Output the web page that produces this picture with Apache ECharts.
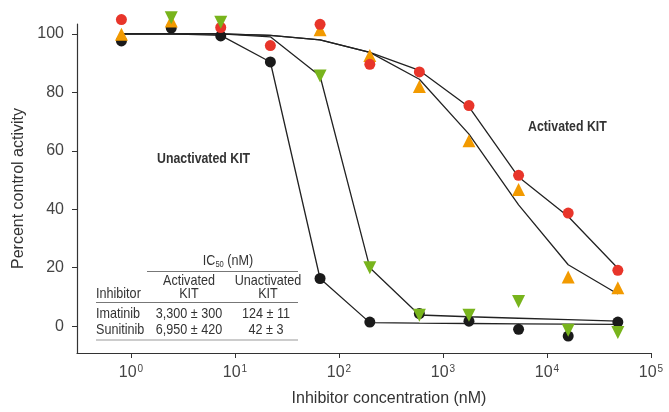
<!DOCTYPE html>
<html>
<head>
<meta charset="utf-8">
<script src="https://cdn.jsdelivr.net/npm/echarts@6/dist/echarts.min.js"></script>
<style>
  html, body { margin: 0; padding: 0; background: #fff; }
  #chart { width: 669px; height: 412px; }
</style>
</head>
<body>
<div id="chart"></div>
<script>
// inhibitor concentrations (nM), 3-fold dilution series
var conc = [0.81, 2.44, 7.3, 21.9, 65.8, 198, 593, 1778, 5333, 16000, 48000];

// measured points (percent control activity), null = not shown
var sunUnact = [97.6, 102, 99.3, 90.4, 16.3, 1.4, 4.3, 1.7, -1.1, -3.4, 1.4];     // black
var imaUnact = [null, 105.5, 104, null, 85.6, 20, 3.7, 3.7, 8.4, -1.4, -2.2];     // green
var sunAct   = [104.9, null, 102.2, 96, 103.3, 89.6, 87, 75.5, 51.6, 38.7, 19.1]; // red
var imaAct   = [99.9, 104.4, null, null, 101.4, 92.6, 82, 63.4, 46.8, 16.8, 13.1]; // orange

// fitted curves
var sunUnactFit = [100, 100, 99.5, 90.4, 16.3, 1.2, 1.0, 0.9, 0.8, 0.7, 0.6];
var imaUnactFit = [100, 100, 100, 99, 85.6, 20, 3.8, 3.2, 2.7, 2.2, 1.7];
var sunActFit   = [100, 100, 100, 99.5, 98, 93.7, 87.5, 75, 51, 37.5, 19.8];
var imaActFit   = [100, 100, 100, 99.5, 98, 93.7, 84.5, 65.7, 41.5, 21, 11];

var xTicks = [1, 10, 100, 1000, 10000, 100000];
var yTicks = [0, 20, 40, 60, 80, 100];

function pairs(ys) {
    var out = [];
    for (var i = 0; i < conc.length; i++) {
        if (ys[i] !== null) out.push([conc[i], ys[i]]);
    }
    return out;
}

var sans = '"Liberation Sans", Arial, sans-serif';
var lineColor = '#222';

function fitLine(ys) {
    return {
        type: 'line', data: pairs(ys), showSymbol: false, silent: true,
        lineStyle: {color: lineColor, width: 1.3}, z: 2
    };
}
function points(ys, color, symbol, size, rotate, z) {
    return {
        type: 'scatter', data: pairs(ys), symbol: symbol, symbolSize: size,
        symbolRotate: rotate, clip: false, itemStyle: {color: color, opacity: 1}, z: z
    };
}

// table / annotation text; fonts are squeezed horizontally to look condensed
function txt(x, y, s, align, font, sx) {
    return {
        type: 'text', x: x, y: y, z: 10, scaleX: sx || 0.84,
        style: {text: s, font: font || ('15px ' + sans), fill: '#333',
            align: align || 'center', verticalAlign: 'middle'}
    };
}
function rule(x1, x2, y, color) {
    return {
        type: 'line', z: 10, shape: {x1: x1, y1: y, x2: x2, y2: y},
        style: {stroke: color, lineWidth: 1.2}
    };
}

var chart = echarts.init(document.getElementById('chart'), null, {renderer: 'canvas'});
chart.setOption({
    animation: false,
    grid: {left: 77, right: 18, top: 24, bottom: 53},
    xAxis: {
        type: 'log', logBase: 10, min: 0.303, max: 100000,
        name: 'Inhibitor concentration (nM)', nameLocation: 'middle', nameGap: 38,
        nameTextStyle: {fontSize: 16, color: '#333', fontFamily: 'Liberation Sans', padding: [0, 0, 0, 50]},
        axisLine: {onZero: false, lineStyle: {color: '#333', width: 1.2}},
        axisTick: {customValues: xTicks, length: 5, lineStyle: {color: '#333'}},
        minorTick: {show: false},
        splitLine: {show: false},
        axisLabel: {
            customValues: xTicks, margin: 11, color: '#444',
            formatter: function (v) {
                return '{b|10}{s|' + Math.round(Math.log(v) / Math.LN10) + '}';
            },
            rich: {
                b: {fontSize: 16, fontFamily: 'Liberation Sans', color: '#444'},
                s: {fontSize: 10, fontFamily: 'Liberation Sans', color: '#444', padding: [0, 0, 8, 1]}
            }
        }
    },
    yAxis: {
        type: 'value', min: -9.2, max: 103.4,
        name: 'Percent control activity', nameLocation: 'middle', nameGap: 50,
        nameTextStyle: {fontSize: 16, color: '#333', fontFamily: 'Liberation Sans'},
        axisLine: {show: true, onZero: false, lineStyle: {color: '#333', width: 1.2}},
        axisTick: {show: true, customValues: yTicks, length: 5, lineStyle: {color: '#333'}},
        splitLine: {show: false},
        axisLabel: {customValues: yTicks, margin: 13, fontSize: 16, color: '#444', fontFamily: 'Liberation Sans'}
    },
    series: [
        fitLine(sunUnactFit),
        fitLine(imaUnactFit),
        fitLine(sunActFit),
        fitLine(imaActFit),
        points(sunUnact, '#1a1a1a', 'circle', 11, 0, 3),
        points(imaAct, '#f29a00', 'triangle', 13, 0, 4),
        points(sunAct, '#e8352a', 'circle', 11, 0, 5),
        points(imaUnact, '#78b41c', 'triangle', 13, 180, 6)
    ],
    graphic: [
        txt(157, 159, 'Unactivated KIT', 'left', 'bold 14px ' + sans, 0.88),
        txt(528, 127, 'Activated KIT', 'left', 'bold 14px ' + sans, 0.88),
        {
            type: 'text', x: 228, y: 261, z: 10, scaleX: 0.84,
            style: {
                text: '{n|IC}{sub|50}{n| (nM)}', align: 'center', verticalAlign: 'middle',
                rich: {
                    n: {font: '15px ' + sans, fill: '#333'},
                    sub: {font: '9px ' + sans, fill: '#333', padding: [8, 0, 0, 0]}
                }
            }
        },
        rule(147, 298, 271.5, '#777'),
        txt(189, 281, 'Activated'),
        txt(189, 293.5, 'KIT'),
        txt(268, 281, 'Unactivated'),
        txt(268, 293.5, 'KIT'),
        txt(96, 293.5, 'Inhibitor', 'left'),
        rule(96, 298, 302.5, '#777'),
        txt(96, 313.5, 'Imatinib', 'left'),
        txt(189, 313.5, '3,300 \u00b1 300'),
        txt(266, 313.5, '124 \u00b1 11'),
        txt(96, 330, 'Sunitinib', 'left'),
        txt(189, 330, '6,950 \u00b1 420'),
        txt(266, 330, '42 \u00b1 3'),
        rule(96, 298, 340, '#999')
    ]
});
</script>
</body>
</html>
